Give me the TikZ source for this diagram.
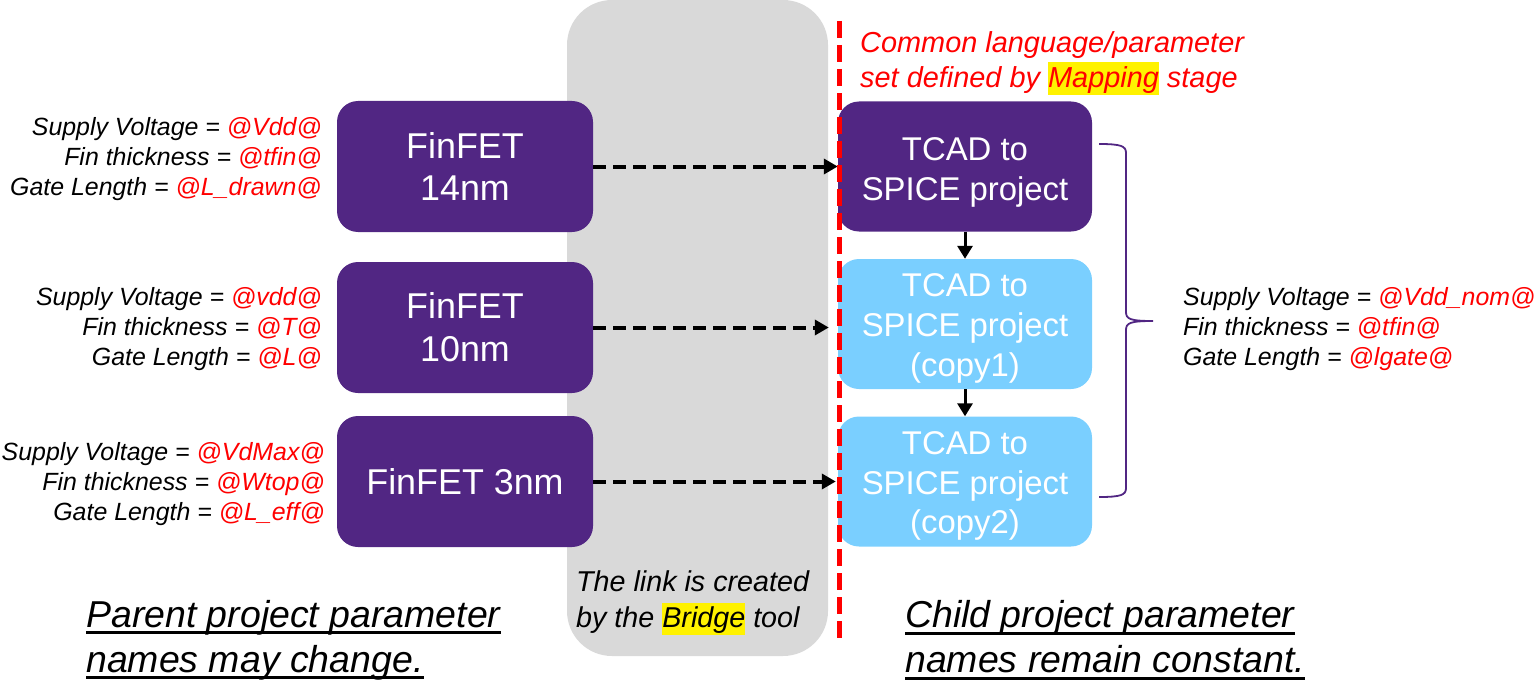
\documentclass[tikz,border=0pt]{standalone}
\usepackage{fontspec}
\setmainfont{Liberation Sans}
\usetikzlibrary{arrows.meta}
\definecolor{purp}{HTML}{512683}
\definecolor{lblue}{HTML}{7ACFFF}
\definecolor{gbg}{HTML}{D9D9D9}
\definecolor{hred}{HTML}{FF0000}
\newcommand{\hlt}[1]{{\setlength{\fboxsep}{0pt}\colorbox{yellow}{\vrule height 0.86em depth 0.27em width 0pt #1}}}
\newcommand{\rv}[1]{\textcolor{hred}{#1}}
\newcommand{\uln}[1]{\leavevmode\setbox0\hbox{#1}\rlap{\vrule height -4.2pt depth 7.2pt width \wd0}\box0}
\newcommand{\topstrut}[1]{\rule{0pt}{#1}}
\begin{document}
\begin{tikzpicture}[x=1bp,y=-1bp,
  boxbase/.style={rounded corners=21bp, inner sep=0pt, align=center, text=white},
  pbox/.style={boxbase, fill=purp, minimum width=256bp, minimum height=131bp, font=\fontsize{36}{43}\selectfont},
  cbox/.style={boxbase, minimum width=254bp, minimum height=130bp, font=\fontsize{33}{40}\selectfont},
  lab/.style={inner sep=0pt, font=\fontsize{25}{30}\selectfont\itshape},
  dasharrow/.style={line width=4bp, dash pattern=on 13bp off 7bp, -{Triangle[length=14bp,width=15bp]}},
  downarrow/.style={line width=3bp, -{Triangle[length=13bp,width=15bp]}},
  bigtext/.style={inner sep=0pt, anchor=west, align=left, font=\fontsize{37.6}{45}\selectfont\itshape}
]
\useasboundingbox (0,0) rectangle (1538,686);
% bridge background
\node[fill=gbg, rounded corners=45bp, minimum width=261bp, minimum height=656bp, inner sep=0pt] (bridge) at (697.5,328) {};
\node[inner sep=0pt, anchor=west, align=left, font=\fontsize{28.8}{36}\selectfont\itshape] (bridgetxt) at (576,603) {The link is created\\by the \hlt{Bridge} tool};
% parent boxes
\node[pbox] (f14) at (465,166.5) {FinFET\\14nm};
\node[pbox] (f10) at (465,327.5) {FinFET\\10nm};
\node[pbox] (f3) at (465,481.5) {FinFET 3nm};
% child boxes
\node[cbox, fill=purp] (t1) at (965,166.5) {\topstrut{34bp}TCAD to\\SPICE project};
\node[cbox, fill=lblue] (t2) at (965,324) {\topstrut{32bp}TCAD to\\SPICE project\\(copy1)};
\node[cbox, fill=lblue] (t3) at (965,481.5) {\topstrut{32bp}TCAD to\\SPICE project\\(copy2)};
% arrows
\draw[dasharrow] (f14.east) -- (f14.east -| t1.west);
\draw[dasharrow, shorten >=9bp] (f10.east) -- (f10.east -| t2.west);
\draw[dasharrow, shorten >=2bp] (f3.east) -- (f3.east -| t3.west);
\draw[downarrow] (t1.south) -- (t2.north);
\draw[downarrow] (t2.south) -- (t3.north);
% red dashed line
\coordinate (rtop) at (839,21);
\coordinate (rbot) at (839,643);
\draw[hred, line width=5bp, dash pattern=on 17bp off 7bp] (rtop) -- (rbot);
% top red text
\node[inner sep=0pt, anchor=west, align=left, text=hred, font=\fontsize{29}{35}\selectfont\itshape] (common) at (860,63) {Common language/parameter\\set defined by \hlt{Mapping} stage};
% left labels
\node[lab, anchor=east, align=right] (l14) at (322,159) {Supply Voltage = \rv{@Vdd@}\\Fin thickness = \rv{@tfin@}\\Gate Length = \rv{@L\_drawn@}};
\node[lab, anchor=east, align=right] (l10) at (322,329) {Supply Voltage = \rv{@vdd@}\\Fin thickness = \rv{@T@}\\Gate Length = \rv{@L@}};
\node[lab, anchor=east, align=right] (l3) at (325,484) {Supply Voltage = \rv{@VdMax@}\\Fin thickness = \rv{@Wtop@}\\Gate Length = \rv{@L\_eff@}};
% brace
\draw[purp, line width=1.8bp] (1099,144) .. controls (1121,144) and (1126,146) .. (1126,153) -- (1126,312) .. controls (1126,319) and (1130,321) .. (1153,321) .. controls (1130,321) and (1126,323) .. (1126,330) -- (1126,488) .. controls (1126,495) and (1121,497) .. (1099,497);
% right labels
\node[lab, anchor=west, align=left] (lr) at (1183,329) {Supply Voltage = \rv{@Vdd\_nom@}\\Fin thickness = \rv{@tfin@}\\Gate Length = \rv{@lgate@}};
% bottom texts
\node[bigtext] (parent) at (86,640) {\uln{Parent project parameter}\\\uln{names may change.}};
\node[bigtext] (child) at (905,640) {\uln{Child project parameter}\\\uln{names remain constant.}};
\end{tikzpicture}
\end{document}
